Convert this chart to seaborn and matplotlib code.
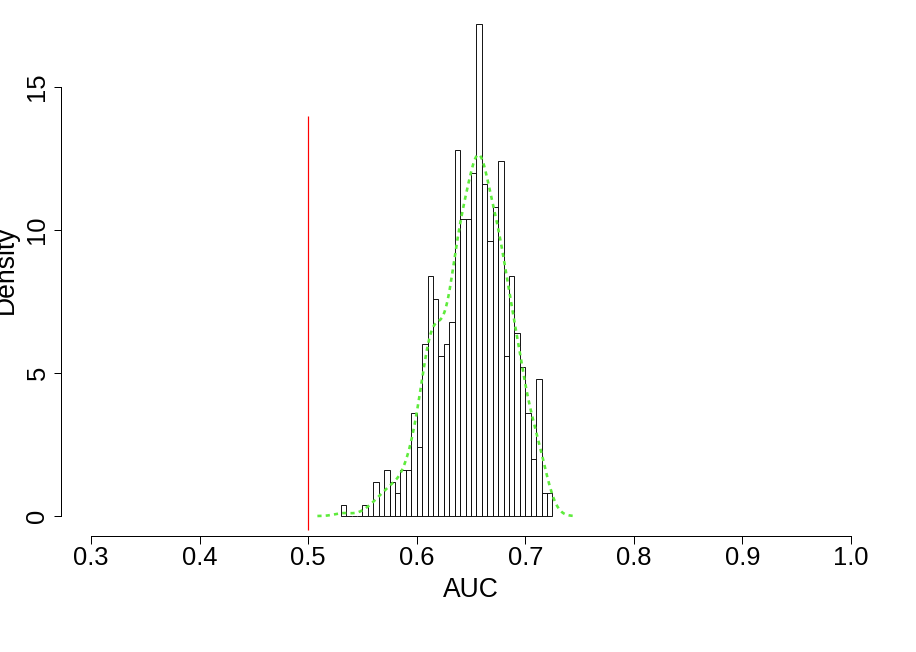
import numpy as np
import pandas as pd
import matplotlib
matplotlib.use("Agg")
import matplotlib.pyplot as plt
import seaborn as sns

# histogram counts of AUC values, bins of width 0.005 starting at 0.53
bin_start = 0.53
bin_width = 0.005
counts = [1, 0, 0, 0, 1, 0, 3, 0, 4, 3,
          2, 4, 4, 9, 6, 15, 21, 19, 14, 15,
          17, 32, 26, 26, 30, 43, 29, 24, 27, 31,
          14, 21, 16, 13, 9, 5, 12, 2, 2]
x_ticks = [0.3, 0.4, 0.5, 0.6, 0.7, 0.8, 0.9, 1.0]
y_ticks = [0, 5, 10, 15]
ref_auc = 0.5
ref_line_top = 14

edges = bin_start + bin_width * np.arange(len(counts) + 1)
centers = (edges[:-1] + edges[1:]) / 2
df = pd.DataFrame({"AUC": np.repeat(centers, counts)})

sns.set_style("white")
plt.rcParams["font.family"] = ["Liberation Sans Narrow", "Liberation Sans", "DejaVu Sans"]
plt.rcParams["text.color"] = "black"
plt.rcParams["axes.labelcolor"] = "black"

W, H = 916, 652
fig = plt.figure(figsize=(W / 72, H / 72), dpi=72)
ax = fig.add_axes([60.6 / W, 116.3 / H, 820.8 / W, 531.3 / H])

sns.histplot(data=df, x="AUC", bins=list(edges), stat="density",
             color="white", edgecolor="black", linewidth=0.9, alpha=1, ax=ax)
sns.kdeplot(data=df, x="AUC", bw_adjust=0.85, cut=3, color="#5EEB3C", linewidth=2.6,
            linestyle=(0, (1.6, 1.6)), ax=ax)
ax.vlines(ref_auc, -0.5, ref_line_top, color="red", linewidth=1.2)

ax.set_xlim(0.272, 1.028)
ax.set_ylim(-0.688, 17.888)
ax.set_xticks(x_ticks)
ax.set_xticklabels([f"{t:.1f}" for t in x_ticks])
ax.set_yticks(y_ticks)

for s in ["top", "right"]:
    ax.spines[s].set_visible(False)
ax.spines["left"].set_bounds(0, 15)
ax.spines["bottom"].set_bounds(0.3, 1.0)
for s in ["left", "bottom"]:
    ax.spines[s].set_color("black")
    ax.spines[s].set_linewidth(1)

ax.tick_params(axis="both", direction="out", length=7.5, width=1, color="black",
               labelsize=25.5, labelcolor="black")
ax.tick_params(axis="x", pad=2.5, bottom=True)
ax.tick_params(axis="y", pad=3.6, left=True, labelrotation=90)
for lab in ax.get_yticklabels():
    lab.set_va("center")

ax.set_xlabel("AUC", fontsize=26.5, color="black")
ax.set_ylabel("Density", fontsize=26.5, color="black")
ax.xaxis.set_label_coords(0.5, (535.7 - 577) / 531.3)
ax.yaxis.set_label_coords((19 - 60.6) / 820.8, 0.5)

fig.savefig("out.png", dpi=72)
